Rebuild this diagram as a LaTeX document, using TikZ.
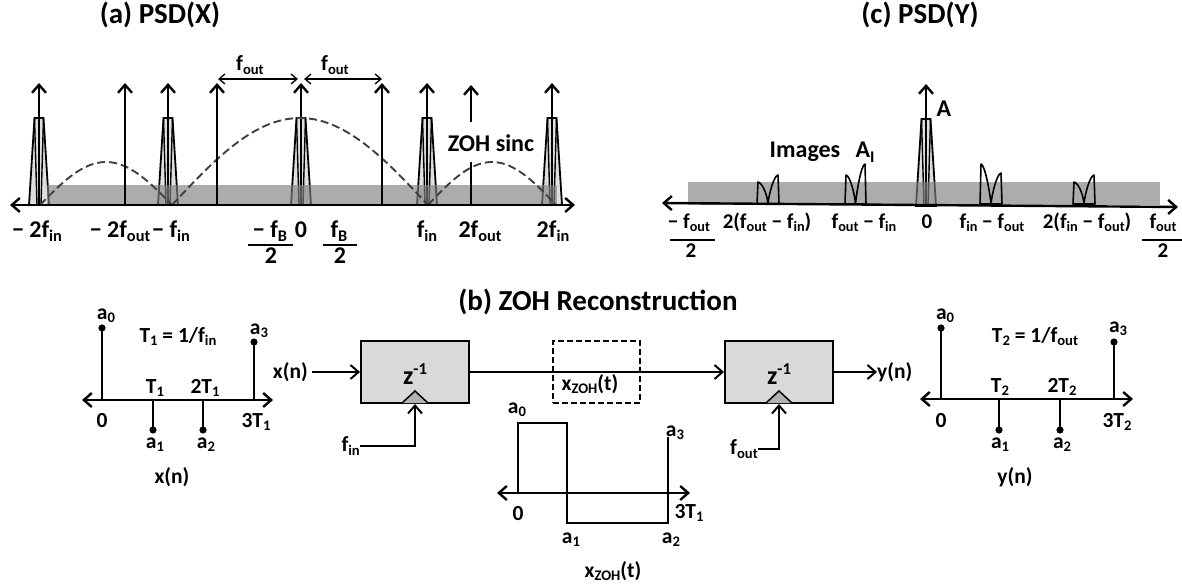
\documentclass[tikz,border=0pt]{standalone}
\usepackage{fontspec}
\setmainfont{Carlito}
\usetikzlibrary{arrows.meta}
\makeatletter
\newcommand\lo[1]{\raisebox{-0.18em}{\fontsize{\fpeval{0.68*\f@size}}{1}\selectfont #1}}
\newcommand\hi[1]{\raisebox{0.36em}{\fontsize{\fpeval{0.64*\f@size}}{1}\selectfont #1}}
\makeatother
\newcommand\mn{\char"2212}
\tikzset{
  barb/.tip={Straight Barb[length=8pt,width=14pt]},
  sbarb/.tip={Straight Barb[length=6pt,width=10pt]},
  ax/.style={line width=2.4pt,barb-barb},
  imp/.style={line width=2.4pt,-barb},
  dbl/.style={line width=1.3pt,sbarb-sbarb},
  arr/.style={line width=2pt,-barb},
  pk/.style={fill=gray!25,draw=black,line width=1.8pt,line join=miter},
  pkl/.style={line width=1.4pt},
  band/.style={fill=gray,opacity=0.65},
  sinc/.style={draw=black!75,line width=1.9pt,dash pattern=on 8pt off 4pt},
  hm/.style={line width=1.6pt,line join=round},
  stem/.style={line width=1.3pt},
  wf/.style={line width=2pt},
  blk/.style={draw,line width=2pt,fill=gray!30,minimum width=108pt,minimum height=62pt,inner sep=0pt},
  dbox/.style={draw,line width=1.8pt,dash pattern=on 6pt off 3pt,minimum width=87pt,minimum height=62pt,inner sep=0pt},
  clk/.style={fill=gray!60,draw=black,line width=1.5pt},
  ft/.style={font=\fontsize{29}{32}\selectfont\bfseries,inner sep=0pt,anchor=base},
  fa/.style={font=\fontsize{24}{28}\selectfont\bfseries,inner sep=0pt,anchor=base},
  fm/.style={font=\fontsize{24}{28}\selectfont\bfseries,inner sep=0pt,anchor=base},
  fz/.style={font=\fontsize{26}{28}\selectfont\bfseries,inner sep=0pt,anchor=base},
  fb/.style={font=\fontsize{21.5}{24}\selectfont\bfseries,inner sep=0pt,anchor=base},
  fc/.style={font=\fontsize{21}{24}\selectfont\bfseries,inner sep=0pt,anchor=base},
}
\newcommand\peak[2]{%
  \filldraw[pk] ({#1-10},#2) -- ({#1-4.5},{#2-87}) -- ({#1+4.5},{#2-87}) -- ({#1+10},#2) -- cycle;
  \draw[pkl] ({#1-4.5},{#2-87}) -- ({#1-2},#2) ({#1+4.5},{#2-87}) -- ({#1+2},#2);
  \draw[imp] (#1,#2) -- (#1,{#2-122});
}
\newcommand\hump[4]{%
  \draw[hm] (#1,204) -- ({#1+1},#3) .. controls ({#1+5},{#3+1}) and ({(#1+#2)/2-1},193) .. ({(#1+#2)/2},204)
    .. controls ({(#1+#2)/2+1},193) and ({#2-5},{#4+1}) .. ({#2-1},#4) -- (#2,204) -- cycle;
}
\begin{document}
\begin{tikzpicture}[x=1pt,y=-1pt]
\useasboundingbox (0,0) rectangle (1182,588);
% ---------------- (a) PSD(X)
\node[ft] (ta) at (160,24) {(a) PSD(X)};
\peak{39}{205}
\peak{168}{205}
\peak{301}{205}
\peak{427}{205}
\peak{552}{205}
\fill[band] (47,185) rectangle (557,205);
\draw[sinc] plot[domain=40:172,samples=40] (\x,{205-43*sin((\x-40)/132*180)});
\draw[sinc] plot[domain=172:428,samples=50] (\x,{205-87*cos((\x-300)/256*180)});
\draw[sinc] plot[domain=428:556,samples=40] (\x,{205-43*sin((\x-428)/128*180)});
\draw[imp] (125,205) -- (125,83);
\draw[imp] (217,205) -- (217,83);
\draw[imp] (382,205) -- (382,83);
\draw[imp] (471,122) -- (471,85);
\draw[line width=2.4pt] (471,162) -- (471,205);
\node[fm] (zs) at (491,152) {ZOH sinc};
\draw[ax] (10,205) -- (575,205);
\draw[dbl] (218,79) -- (298,79);
\draw[dbl] (304,79) -- (382,79);
\node[fb] (fo1) at (250,71) {f\lo{out}};
\node[fb] (fo2) at (335,71) {f\lo{out}};
\node[fa] (l1) at (37,237) {\mn{} 2f\lo{in}};
\node[fa] (l2) at (120,237) {\mn{} 2f\lo{out}};
\node[fa] (l3) at (171,237) {\mn{} f\lo{in}};
\node[fa] (l4) at (270,237) {\mn{} f\lo{B}};
\draw[line width=2pt] (248,245) -- (293,245);
\node[fa] (l4d) at (271,263) {2};
\node[fa] (l5) at (301,237) {0};
\node[fa] (l6) at (339,237) {f\lo{B}};
\draw[line width=2pt] (323,245) -- (357,245);
\node[fa] (l6d) at (340,263) {2};
\node[fa] (l7) at (427,237) {f\lo{in}};
\node[fa] (l8) at (480,237) {2f\lo{out}};
\node[fa] (l9) at (553,237) {2f\lo{in}};
% ---------------- (c) PSD(Y)
\node[ft] (tc) at (920,24) {(c) PSD(Y)};
\peak{926}{206}
\fill[band] (688,182) rectangle (1160,205);
\draw[ax] (662,203) -- (1178,207);
\hump{757}{779}{182}{175}
\hump{845}{866}{175}{164}
\hump{980}{1002}{164}{173}
\hump{1073}{1095}{182}{175}
\node[fm] (im) at (805,158) {Images};
\node[fm] (ai) at (865,158) {A\lo{I}};
\node[fm] (aa) at (944,117) {A};
\node[fc] (c1) at (689,228) {\mn{} f\lo{out}};
\draw[line width=2pt] (670,240) -- (715,240);
\node[fc] (c1d) at (691,257) {2};
\node[fc] (c2) at (767,228) {2(f\lo{out} \mn{} f\lo{in})};
\node[fc] (c3) at (864,228) {f\lo{out} \mn{} f\lo{in}};
\node[fc] (c4) at (927,228) {0};
\node[fc] (c5) at (992,228) {f\lo{in} \mn{} f\lo{out}};
\node[fc] (c6) at (1087,228) {2(f\lo{in} \mn{} f\lo{out})};
\node[fc] (c7) at (1163,228) {f\lo{out}};
\draw[line width=2pt] (1142,240) -- (1182,240);
\node[fc] (c7d) at (1163,257) {2};
% ---------------- (b) ZOH Reconstruction
\node[ft] (tb) at (598,310) {(b) ZOH Reconstruction};
% left stem plot
\draw[ax] (82,400) -- (273,400);
\draw[stem] (102,400) -- (102,328) (153,400) -- (153,430) (203,400) -- (203,430) (254,400) -- (254,342);
\fill (102,328) circle (3.6pt) (153,430) circle (3.6pt) (203,430) circle (3.6pt) (254,342) circle (3.6pt);
\node[fb] (la0) at (106,319) {a\lo{0}};
\node[fb] (lt) at (178,342) {T\lo{1} = 1/f\lo{in}};
\node[fb] (la3) at (259,334) {a\lo{3}};
\node[fb] (lT1) at (155,393) {T\lo{1}};
\node[fb] (l2T1) at (205,393) {2T\lo{1}};
\node[fb] (l0) at (102,427) {0};
\node[fb] (l3T1) at (256,427) {3T\lo{1}};
\node[fb] (la1) at (155,448) {a\lo{1}};
\node[fb] (la2) at (206,448) {a\lo{2}};
\node[fb] (lxn) at (172,483) {x(n)};
% block diagram
\node[blk] (d1) at (415,372) {};
\node[blk] (d2) at (779,372) {};
\node[dbox] (zb) at (596.5,372) {};
\node[fz] (z1) at (415,384) {z\hi{-1}};
\node[fz] (z2) at (779,384) {z\hi{-1}};
\filldraw[clk] (402,403) -- (415,391) -- (428,403);
\filldraw[clk] (766,403) -- (779,391) -- (792,403);
\node[fb,anchor=east] (xn) at (308,372) {x(n)};
\node[fb,anchor=west] (yn) at (877,372) {y(n)};
\node[fb,anchor=east] (fi) at (360,446) {f\lo{in}};
\node[fb,anchor=east] (fo) at (758,449) {f\lo{out}};
\draw[arr,shorten <=4pt] (xn.east) -- (d1.west);
\draw[arr] (d1.east) -- (d2.west);
\draw[arr] (d2.east) -- (yn.west);
\draw[arr] (fi.east) -| (d1.south);
\draw[arr] (fo.east) -| (d2.south);
\node[fb] (zt) at (590,390) {x\lo{ZOH}(t)};
% ZOH waveform
\draw[ax] (497,493) -- (690,493);
\draw[wf] (518,493) -- (518,423) -- (567,423) -- (567,523) -- (668,523) -- (668,437);
\node[fb] (wa0) at (517,413) {a\lo{0}};
\node[fb] (wa3) at (675,436) {a\lo{3}};
\node[fb] (w0) at (518,520) {0};
\node[fb] (w3T) at (689,518) {3T\lo{1}};
\node[fb] (wa1) at (571,543) {a\lo{1}};
\node[fb] (wa2) at (671,543) {a\lo{2}};
\node[fb] (wx) at (613,577) {x\lo{ZOH}(t)};
% right stem plot
\draw[ax] (920,399) -- (1133,399);
\draw[stem] (941,399) -- (941,328) (999,399) -- (999,430) (1060,399) -- (1060,430) (1114,399) -- (1114,342);
\fill (941,328) circle (3.6pt) (999,430) circle (3.6pt) (1060,430) circle (3.6pt) (1114,342) circle (3.6pt);
\node[fb] (ra0) at (945,319) {a\lo{0}};
\node[fb] (rt) at (1035,342) {T\lo{2} = 1/f\lo{out}};
\node[fb] (ra3) at (1118,332) {a\lo{3}};
\node[fb] (rT2) at (1000,392) {T\lo{2}};
\node[fb] (r2T2) at (1062,392) {2T\lo{2}};
\node[fb] (r0) at (941,427) {0};
\node[fb] (r3T2) at (1117,427) {3T\lo{2}};
\node[fb] (ra1) at (1000,448) {a\lo{1}};
\node[fb] (ra2) at (1062,448) {a\lo{2}};
\node[fb] (ryn) at (1015,483) {y(n)};
\end{tikzpicture}
\end{document}
